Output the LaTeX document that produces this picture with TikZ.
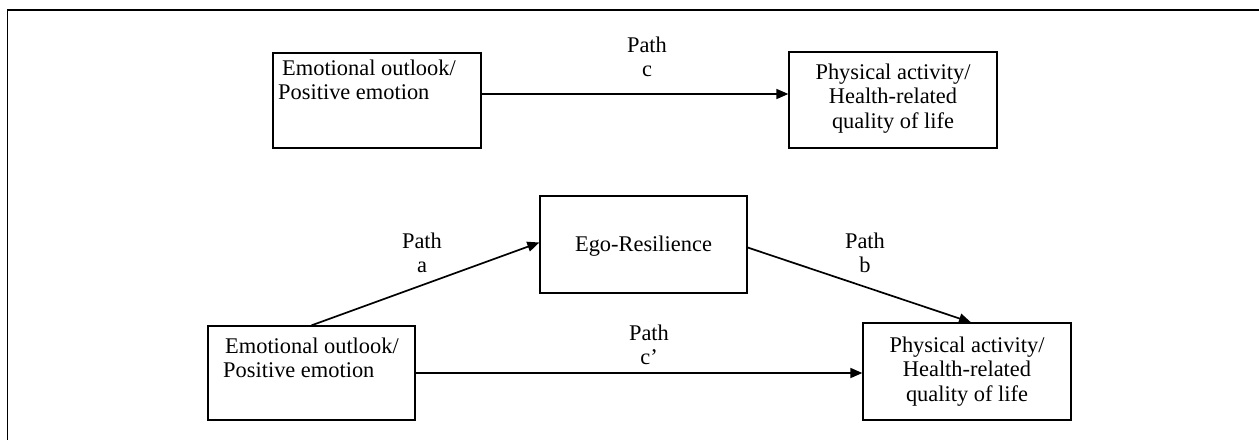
\documentclass[tikz,border=0pt]{standalone}
\usepackage{fontspec}
\setmainfont{Liberation Serif}
\usetikzlibrary{arrows.meta,calc}
\begin{document}
\begin{tikzpicture}[x=1pt,y=-1pt,
  box/.style={draw, line width=1.3pt, rectangle, inner sep=0pt},
  txt/.style={inner sep=0pt, font=\fontsize{22.4}{24.5}\selectfont},
  arr/.style={line width=1.7pt, -{Triangle[length=12pt,width=10pt]}}]
\useasboundingbox (0,0) rectangle (1259,440);
\draw[line width=1.4pt] (1259,10) -- (7.5,10) -- (7.5,440);
% boxes
\node[box, minimum width=208pt, minimum height=95pt] (b1) at (377,100.5) {};
\node[box, minimum width=208pt, minimum height=96pt] (b2) at (893,100) {};
\node[box, minimum width=207pt, minimum height=97pt] (b5) at (643.5,244.5) {};
\node[box, minimum width=207pt, minimum height=94pt] (b3) at (311.5,373) {};
\node[box, minimum width=208pt, minimum height=97pt] (b4) at (967,371.5) {};
% box texts
\node[txt, anchor=base west] (t1) at (278,75) {\begin{tabular}[t]{@{}l@{}}\hspace*{4pt}Emotional outlook/\\Positive emotion\end{tabular}};
\node[txt, anchor=base] (t2) at (893,79) {\begin{tabular}[t]{@{}c@{}}Physical activity/\\Health-related\\quality of life\end{tabular}};
\node[txt, anchor=base] (t5) at (643.5,251) {Ego-Resilience};
\node[txt, anchor=base west] (t3) at (223,353) {\begin{tabular}[t]{@{}l@{}}\hspace*{2pt}Emotional outlook/\\Positive emotion\end{tabular}};
\node[txt, anchor=base] (t4) at (967,352) {\begin{tabular}[t]{@{}c@{}}Physical activity/\\Health-related\\quality of life\end{tabular}};
% path labels
\node[txt, anchor=base] (lc) at (647,52) {\begin{tabular}[t]{@{}c@{}}Path\\c\end{tabular}};
\node[txt, anchor=base] (la) at (422,248) {\begin{tabular}[t]{@{}c@{}}Path\\a\end{tabular}};
\node[txt, anchor=base] (lb) at (865,248) {\begin{tabular}[t]{@{}c@{}}Path\\b\end{tabular}};
\node[txt, anchor=base] (lcp) at (649,340) {\begin{tabular}[t]{@{}c@{}}Path\\c’\end{tabular}};
% connectors
\coordinate (yc) at (0,94);
\draw[arr] (b1.east |- yc) -- (b2.west |- yc);
\draw[arr] (b3.north) -- ($(b5.west)+(0,-2)$);
\draw[arr] ($(b5.east)+(0,3)$) -- ($(b4.north)+(4,0)$);
\draw[arr] (b3.east) -- (b3.east -| b4.west);
\end{tikzpicture}
\end{document}
